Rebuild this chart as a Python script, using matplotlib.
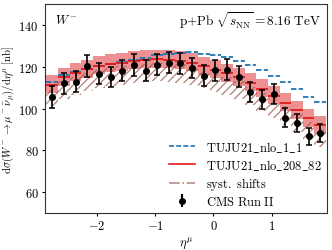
import matplotlib
matplotlib.use("Agg")
import matplotlib.pyplot as plt
from matplotlib.lines import Line2D

# Бины по псевдобыстроте (с.ц.м.)
eta_edges = [-2.865, -2.665, -2.465, -2.265, -2.065, -1.865, -1.665, -1.465, -1.265,
             -1.065, -0.865, -0.665, -0.465, -0.265, -0.065, 0.135, 0.335, 0.535,
             0.735, 0.935, 1.135, 1.335, 1.535, 1.735, 1.935]
eta_centers = [-2.765, -2.565, -2.365, -2.165, -1.965, -1.765, -1.565, -1.365, -1.165,
               -0.965, -0.765, -0.565, -0.365, -0.165, 0.035, 0.235, 0.435, 0.635,
               0.835, 1.035, 1.235, 1.435, 1.635, 1.835]

# Данные CMS
cms_values = [105.7, 112.2, 112.9, 120.2, 116.7, 115.1, 118.0, 121.0, 118.1, 121.0, 122.0, 121.7,
              119.4, 115.7, 118.3, 118.6, 115.3, 107.8, 104.5, 107.0, 95.7, 93.0, 86.7, 88.3]
cms_errors = [5.3, 5.0, 5.0, 5.2, 5.0, 5.0, 5.0, 5.3, 5.0, 5.0, 5.0, 5.0,
              5.0, 5.0, 5.0, 5.0, 5.0, 4.8, 4.6, 4.8, 4.4, 4.3, 4.0, 4.2]

# Предсказания
nlo_1_1 = [112.9, 115.9, 117.3, 118.8, 120.4, 121.2, 122.3, 123.3, 124.2, 125.4, 126.2, 126.8,
           126.9, 126.3, 125.6, 124.6, 122.7, 120.7, 118.6, 115.7, 112.5, 109.4, 105.4, 103.0]
nlo_208_82 = [111.3, 115.0, 117.0, 118.8, 120.3, 121.3, 122.0, 122.7, 123.2, 123.5, 123.4, 122.9,
              121.8, 120.2, 118.5, 116.8, 115.0, 112.2, 109.3, 106.2, 102.8, 99.2, 95.3, 92.0]
nlo_208_82_hi = [115.9, 119.6, 121.6, 123.4, 124.9, 125.9, 126.6, 127.3, 127.8, 128.1, 128.0, 127.5,
                 126.4, 124.8, 123.1, 121.4, 119.6, 116.8, 113.9, 110.8, 107.4, 103.8, 99.9, 96.6]
nlo_208_82_lo = [107.3, 111.0, 113.0, 114.8, 116.3, 117.3, 118.0, 118.7, 119.2, 119.5, 119.4, 118.9,
                 117.8, 116.2, 114.5, 112.8, 111.0, 108.2, 105.3, 102.2, 98.8, 95.2, 91.3, 88.0]

# Систематические сдвиги
shift_hi = [109.5, 113.2, 115.2, 117.0, 118.5, 119.5, 120.2, 120.9, 121.4, 121.7, 121.6, 121.1,
            120.0, 118.4, 116.7, 115.0, 113.2, 110.4, 107.5, 104.4, 101.0, 97.4, 93.5, 90.2]
shift_lo = [100.8, 104.5, 106.5, 108.3, 109.8, 110.8, 111.5, 112.2, 112.7, 113.0, 112.9, 112.4,
            111.3, 109.7, 108.0, 106.3, 104.5, 101.7, 98.8, 95.7, 92.3, 88.7, 84.8, 81.5]

plt.rcParams["mathtext.fontset"] = "cm"
plt.rcParams["font.family"] = "serif"
plt.rcParams["font.serif"] = ["cmr10", "DejaVu Serif"]
plt.rcParams["axes.formatter.use_mathtext"] = True
plt.rcParams["hatch.linewidth"] = 0.9

fs = 9
blue_dash = (3, 1.3)

fig = plt.figure(figsize=(3.32, 2.51), dpi=100)
ax = fig.add_axes([0.1355, 0.147, 0.8495, 0.833])

# Полоса неопределенности nPDF
ax.stairs(nlo_208_82_hi, eta_edges, baseline=nlo_208_82_lo, fill=True,
          color="#e0474a", alpha=0.6, linewidth=0)
# Штриховка систематических сдвигов
ax.stairs(shift_hi, eta_edges, baseline=shift_lo, fill=True, hatch="////",
          facecolor="none", edgecolor="#9a5646", alpha=0.75, linewidth=0)

ax.hlines(nlo_1_1, eta_edges[:-1], eta_edges[1:], colors="tab:blue",
          linestyles=[(0, blue_dash)], linewidth=1.3)
ax.hlines(nlo_208_82, eta_edges[:-1], eta_edges[1:], colors="#e31a1c",
          linestyles="-", linewidth=1.3)

ax.errorbar(eta_centers, cms_values, yerr=cms_errors, fmt="o", color="black",
            markersize=4, capsize=2.5, elinewidth=1.2, capthick=1.1)

ax.set_xlim(-2.89, 1.95)
ax.set_ylim(50, 150)
ax.set_yticks([60, 80, 100, 120, 140])
ax.set_xticks([-2, -1, 0, 1])
ax.tick_params(length=2.5, width=0.8, labelsize=fs, pad=2)
for spine in ax.spines.values():
    spine.set_color("#333333")

ax.set_xlabel(r"$\eta^\mu$", fontsize=fs, labelpad=2)
ax.set_ylabel(r"$\mathrm{d}\sigma(W^- \to \mu^-\bar{\nu}_\mu)/\mathrm{d}\eta^\mu\ \mathrm{[nb]}$",
              fontsize=7.8, labelpad=1)

ax.text(0.035, 0.925, r"$W^-$", transform=ax.transAxes, fontsize=fs, va="center")
ax.text(0.98, 0.925, r"$\mathrm{p{+}Pb}\ \sqrt{s_\mathrm{NN}} = 8.16\ \mathrm{TeV}$",
        transform=ax.transAxes, fontsize=9.5, va="center", ha="right")

# Легенда с прокси-объектами
handles = [
    Line2D([], [], color="tab:blue", linestyle=(0, blue_dash), linewidth=1.2),
    Line2D([], [], color="#e31a1c", linestyle="-", linewidth=1.2),
    Line2D([], [], color="#a0766a", linestyle="-.", linewidth=1.2, alpha=0.8),
    ax.errorbar([], [], yerr=[], fmt="o", color="black", markersize=4, capsize=2.5),
]
labels = [r"$\mathrm{TUJU21\_nlo\_1\_1}$", r"$\mathrm{TUJU21\_nlo\_208\_82}$",
          r"$\mathrm{syst.\ shifts}$", r"$\mathrm{CMS\ Run\ II}$"]
ax.legend(handles, labels, loc="lower right", frameon=False, fontsize=fs,
          handlelength=2.1, labelspacing=0.25, borderaxespad=0.1, borderpad=0.3,
          handletextpad=0.9)

plt.savefig("out.png", dpi=100)
plt.close()
